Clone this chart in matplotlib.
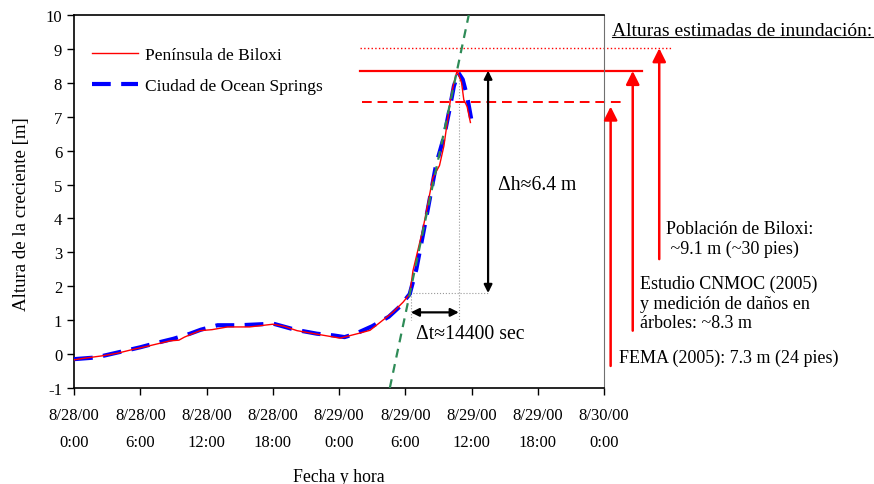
import matplotlib
matplotlib.use("Agg")
import matplotlib.pyplot as plt

plt.rcParams['font.family'] = ['Liberation Serif', 'DejaVu Serif']
plt.rcParams['axes.unicode_minus'] = False

# Data: hours since 8/28/00 0:00
biloxi_h = [0, 1, 2.6, 4, 5.5, 6.9, 8.7, 9.5, 10, 11.4, 12.5, 13.9, 15.9, 18, 19, 20.2,
            22.3, 24.1, 25.9, 26.8, 27.7, 28.9, 29.8, 30.4, 30.7, 31.6, 32.5, 33.1, 33.5,
            34.1, 34.4, 34.7, 35.1, 35.3, 35.6, 35.9]
biloxi_v = [-0.17, -0.12, -0.05, 0.03, 0.15, 0.25, 0.39, 0.41, 0.5, 0.69, 0.72, 0.8, 0.8,
            0.88, 0.82, 0.69, 0.57, 0.47, 0.62, 0.7, 0.93, 1.24, 1.53, 1.77, 2.46, 3.69,
            5.2, 5.56, 6.14, 7.52, 8.0, 8.36, 8.0, 7.5, 7.3, 6.83]

ocean_h = [0, 2, 4, 6, 7.5, 9, 10.5, 11.5, 13, 15, 17, 18, 20, 22, 23.5, 24.5, 25.5, 27,
           28.5, 29.5, 30.4, 31, 32, 32.8, 33.5, 34, 34.4, 34.8, 35.2, 35.6, 36.0]
ocean_v = [-0.15, -0.1, 0.05, 0.2, 0.33, 0.45, 0.6, 0.72, 0.85, 0.85, 0.88, 0.9, 0.72,
           0.6, 0.55, 0.5, 0.6, 0.82, 1.1, 1.4, 1.77, 2.5, 4.2, 5.6, 6.4, 7.2, 7.9, 8.3,
           8.1, 7.6, 6.88]

trend_h = [28.6, 35.75]
trend_v = [-1, 10]

tick_hours = [0, 6, 12, 18, 24, 30, 36, 42, 48]
tick_labels = ["8/28/00\n0:00", "8/28/00\n6:00", "8/28/00\n12:00", "8/28/00\n18:00",
               "8/29/00\n0:00", "8/29/00\n6:00", "8/29/00\n12:00", "8/29/00\n18:00",
               "8/30/00\n0:00"]

fema_level = 7.42
cnmoc_level = 8.35
biloxi_level = 9.02
base_h, base_v = 30.4, 1.77
peak_h, peak_v = 34.85, 8.36

fig = plt.figure(figsize=(8.74, 4.85), dpi=100)
ax = fig.add_axes([0.0847, 0.198, 0.6064, 0.769])
FS_TICK = 12
FS_LEG = 12.5
FS_ANN = 13
FS_BIG = 14.2

ax.plot(biloxi_h, biloxi_v, color='red', lw=1.0, label='Península de Biloxi', zorder=4)
ax.plot(ocean_h, ocean_v, color='#0000ff', lw=3, dashes=(4.5, 2.5),
        label='Ciudad de Ocean Springs', zorder=3)
ax.plot(trend_h, trend_v, color='#2e8b57', lw=1.6, dashes=(4, 3), zorder=5)

# dotted helper lines
ax.plot([base_h, 37.5], [1.8, 1.8], color='#999999', lw=0.8, ls=':', zorder=2)
ax.plot([base_h + 0.1, base_h + 0.1], [1.8, 1.0], color='#999999', lw=0.8, ls=':', zorder=2)
ax.plot([peak_h, peak_h], [peak_v, 1.0], color='#999999', lw=0.8, ls=':', zorder=2)

# delta arrows
ax.annotate('', xy=(37.5, 1.8), xytext=(37.5, 8.36),
            arrowprops=dict(arrowstyle='<|-|>', color='black', lw=1.6,
                            mutation_scale=12, shrinkA=0, shrinkB=0))
ax.annotate('', xy=(base_h + 0.1, 1.23), xytext=(peak_h, 1.23),
            arrowprops=dict(arrowstyle='<|-|>', color='black', lw=1.6,
                            mutation_scale=12, shrinkA=0, shrinkB=0))
ax.text(38.4, 5.0, 'Δh≈6.4 m', fontsize=FS_BIG, va='center', ha='left')
ax.text(31.0, 0.62, 'Δt≈14400 sec', fontsize=FS_BIG, va='center', ha='left')

# estimated flood heights (extend outside axes)
ax.plot([25.9, 54.1], [biloxi_level, biloxi_level], color='red', lw=1.0, ls=':', clip_on=False)
ax.plot([25.9, 51.4], [cnmoc_level, cnmoc_level], color='red', lw=1.6, clip_on=False)
ax.plot([26.1, 49.5], [fema_level, fema_level], color='red', lw=1.4, dashes=(5, 3), clip_on=False)

for xh, y0, y1 in [(48.6, -0.35, fema_level - 0.12), (50.6, 0.69, cnmoc_level),
                   (53.0, 2.8, biloxi_level)]:
    ax.annotate('', xy=(xh, y1), xytext=(xh, y0), annotation_clip=False,
                arrowprops=dict(arrowstyle='-|>', color='red', lw=1.8,
                                mutation_scale=20, shrinkA=0, shrinkB=0))

ax.text(48.7, 9.55, 'Alturas estimadas de inundación:', fontsize=14.0,
        va='center', ha='left', clip_on=False)
ax.plot([48.7, 72.5], [9.36, 9.36], color='black', lw=0.8, clip_on=False)
ax.text(53.6, 3.4, 'Población de Biloxi:\n ~9.1 m (~30 pies)', fontsize=FS_ANN,
        va='center', ha='left', linespacing=1.2, clip_on=False)
ax.text(51.3, 1.5, 'Estudio CNMOC (2005)\ny medición de daños en\nárboles: ~8.3 m',
        fontsize=FS_ANN, va='center', ha='left', linespacing=1.2, clip_on=False)
ax.text(49.4, -0.1, 'FEMA (2005): 7.3 m (24 pies)', fontsize=FS_ANN,
        va='center', ha='left', clip_on=False)

ax.set_xlim(0, 48)
ax.set_ylim(-1, 10)
ax.set_xticks(tick_hours)
ax.set_xticklabels(tick_labels, fontsize=FS_TICK, linespacing=1.9)
ax.set_yticks(range(-1, 11))
ax.tick_params(axis='y', labelsize=FS_TICK, direction='out', length=5, width=1)
ax.tick_params(axis='x', direction='out', length=5, width=1, pad=9)
ax.spines['right'].set_color('#707070')
for s in ['left', 'bottom', 'top']:
    ax.spines[s].set_linewidth(1.2)
ax.set_ylabel('Altura de la creciente [m]', fontsize=13.6)
ax.yaxis.set_label_coords(-0.084, 0.469)
ax.set_xlabel('Fecha y hora', fontsize=12.8, labelpad=13)

leg = ax.legend(loc='upper left', bbox_to_anchor=(0.021, 0.932), frameon=False,
                fontsize=FS_LEG, handlelength=2.65, handletextpad=0.4, labelspacing=0.82,
                borderaxespad=0.0)

fig.savefig('out.png', dpi=100)
